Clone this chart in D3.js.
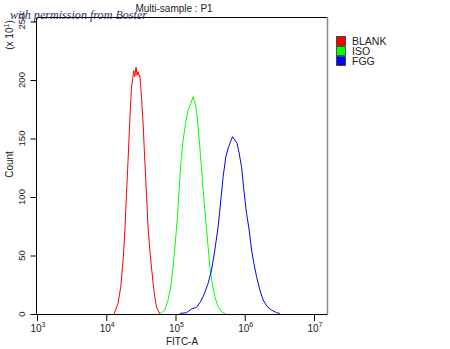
<!DOCTYPE html>
<html>
<head>
<meta charset="utf-8">
<script src="https://cdn.jsdelivr.net/npm/d3@7"></script>
<style>
  html, body { margin: 0; padding: 0; background: #fff; }
  svg { display: block; }
  text { font-family: "Liberation Sans", Arial, sans-serif; fill: #222; }
</style>
</head>
<body>
<svg id="chart" width="450" height="349"></svg>
<script>
// ---- data ----
const title = "Multi-sample : P1";
const xLabel = "FITC-A";
const yLabel = "Count";
const legendNames = ["BLANK", "ISO", "FGG"];
const legendColors = ["#ff0000", "#00ff00", "#0000ff"];
const xMajorTicks = [1e3, 1e4, 1e5, 1e6, 1e7];
const xTickExponents = ["3", "4", "5", "6", "7"];
const yMajorTicks = [0, 50, 100, 150, 200, 250];

// intensity (FITC-A) and count (x10^1)
const blankX = [12970, 14800, 16200, 17500, 18500, 19600, 20650, 21860, 23120, 24000, 24900, 25820, 26970, 27900, 28830, 30000, 30500, 32270, 34030, 35990, 38100, 40180, 42540, 44990, 47450, 50230, 53110, 59300];
const blankY = [0, 9.1, 23.3, 46, 69.2, 103, 131, 165, 194, 200, 208, 203, 211, 204, 207, 203, 204, 186, 163, 131.6, 103, 74, 55, 40, 26.5, 14.5, 6, 0];

const isoX = [59300, 70000, 78200, 85500, 92300, 100000, 106900, 112700, 119400, 128800, 139600, 152100, 166400, 179600, 194500, 208000, 224500, 242300, 264900, 289800, 313300, 338100, 369800, 413000, 462300, 528100];
const isoY = [0, 3.4, 12, 23.4, 40.4, 63.2, 83.2, 106, 128.8, 148.7, 163, 174.4, 180, 185.7, 178.6, 165.8, 143, 117.4, 88.9, 63.2, 40.4, 26.2, 14.8, 6.2, 2, 0];

const fggX = [115400, 144200, 170300, 201100, 229600, 256400, 295800, 331300, 369800, 413000, 451600, 487500, 533200, 575400, 623200, 666300, 719400, 776200, 829800, 898600, 970400, 1061000, 1158000, 1254000, 1355000, 1481000, 1652000, 1845000, 2108000, 2438000, 2882000, 3214000];
const fggY = [0.5, 1.1, 4.3, 5.7, 10.5, 16.2, 26.2, 37.6, 54.7, 74.6, 97.4, 117.4, 134.4, 141.6, 147.3, 151.5, 148.7, 145.9, 137.4, 125.9, 106, 86.1, 71.8, 54.7, 43.3, 31.9, 20.5, 12, 6.2, 3.4, 1.1, 0.5];

// ---- drawing ----
const svg = d3.select("#chart");
const x = d3.scaleLog().domain([1e3, 1e7]).range([37, 314]);
const y = d3.scaleLinear().domain([0, 250]).range([314, 21.5]);
const xMax = x.invert(327.5);
const yMax = y.invert(17.5);

// frame: top and right border
svg.append("line").attr("x1", x(1e3)).attr("x2", x(xMax))
  .attr("y1", y(yMax)).attr("y2", y(yMax)).attr("stroke", "#000").attr("stroke-width", 1);
svg.append("line").attr("x1", x(xMax)).attr("x2", x(xMax))
  .attr("y1", y(yMax)).attr("y2", y(0)).attr("stroke", "#8a8a8a").attr("stroke-width", 1.5);

// x axis
const xMinor = [];
for (let e = 3; e < 8; e++) for (let m = 2; m <= 9; m++) { const v = m * Math.pow(10, e); if (v <= xMax) xMinor.push(v); }
const gx = svg.append("g").attr("transform", `translate(0,${y(0)})`);
gx.call(d3.axisBottom(x).tickValues(xMinor).tickSize(4).tickFormat(""));
gx.call(d3.axisBottom(x).tickValues(xMajorTicks).tickSize(7).tickFormat(""));
gx.selectAll(".domain").remove();
gx.selectAll("line").attr("stroke", "#000");
svg.append("line").attr("x1", x(1e3)).attr("x2", x(xMax)).attr("y1", y(0) + 0.5).attr("y2", y(0) + 0.5).attr("stroke", "#000");

const xl = svg.append("g").selectAll("text").data(xMajorTicks).join("text")
  .attr("x", d => x(d) + 1).attr("y", 331.5).attr("text-anchor", "middle").style("font-size", "10px");
xl.append("tspan").text("10");
xl.append("tspan").attr("dy", -5).style("font-size", "7px").text((d, i) => xTickExponents[i]);

// y axis
const yMinor = d3.range(10, 251, 10).filter(v => v % 50 !== 0);
const gy = svg.append("g").attr("transform", `translate(${x(1e3) - 0.5},0)`);
gy.call(d3.axisLeft(y).tickValues(yMinor).tickSize(4).tickFormat(""));
gy.call(d3.axisLeft(y).tickValues(yMajorTicks).tickSize(6).tickFormat(""));
gy.selectAll(".domain").remove();
gy.selectAll("line").attr("stroke", "#000");
svg.append("line").attr("x1", x(1e3) - 0.5).attr("x2", x(1e3) - 0.5).attr("y1", y(yMax)).attr("y2", y(0) + 1).attr("stroke", "#000");

svg.append("g").selectAll("text").data(yMajorTicks).join("text")
  .attr("transform", d => `translate(25,${y(d)}) rotate(-90)`)
  .attr("text-anchor", "middle").style("font-size", "9.5px").text(d => d);

// curves
const line = d3.line().x(d => x(d[0])).y(d => y(d[1]));
const series = [[blankX, blankY], [isoX, isoY], [fggX, fggY]];
series.forEach((s, i) => {
  const pts = s[0].map((v, j) => [v, s[1][j]]);
  svg.append("path").datum(pts).attr("d", line).attr("fill", "none")
    .attr("stroke", legendColors[i]).attr("stroke-width", 1);
});

// titles
svg.append("text").attr("x", 174).attr("y", 12).attr("text-anchor", "middle")
  .style("font-size", "10px").text(title);
svg.append("text").attr("x", 182).attr("y", 345).attr("text-anchor", "middle")
  .style("font-size", "10px").text(xLabel);
svg.append("text").attr("transform", "translate(13,164.5) rotate(-90)")
  .attr("text-anchor", "middle").style("font-size", "10px").text(yLabel);
const unit = svg.append("text").attr("transform", "translate(13,35) rotate(-90)")
  .attr("text-anchor", "middle").style("font-size", "10px");
unit.append("tspan").text("(x 10");
unit.append("tspan").attr("dy", -4).style("font-size", "7px").text("1");
unit.append("tspan").attr("dy", 4).text(")");

// legend
const lg = svg.append("g").selectAll("g").data(legendNames).join("g")
  .attr("transform", (d, i) => `translate(336.5,${36.5 + i * 10})`);
lg.append("rect").attr("width", 9).attr("height", 9)
  .attr("fill", (d, i) => legendColors[i]).attr("stroke", "#333").attr("stroke-width", 0.8);
lg.append("text").attr("x", 15.5).attr("y", 8.7).style("font-size", "10.5px").text(d => d);

// watermark
svg.append("text").attr("x", 10).attr("y", 19)
  .attr("textLength", 137).attr("lengthAdjust", "spacingAndGlyphs")
  .style("font-family", "'Liberation Serif', 'DejaVu Serif', serif")
  .style("font-style", "italic").style("font-size", "11.5px").style("fill", "#1c3461")
  .text("with permission from Boster");
</script>
</body>
</html>
